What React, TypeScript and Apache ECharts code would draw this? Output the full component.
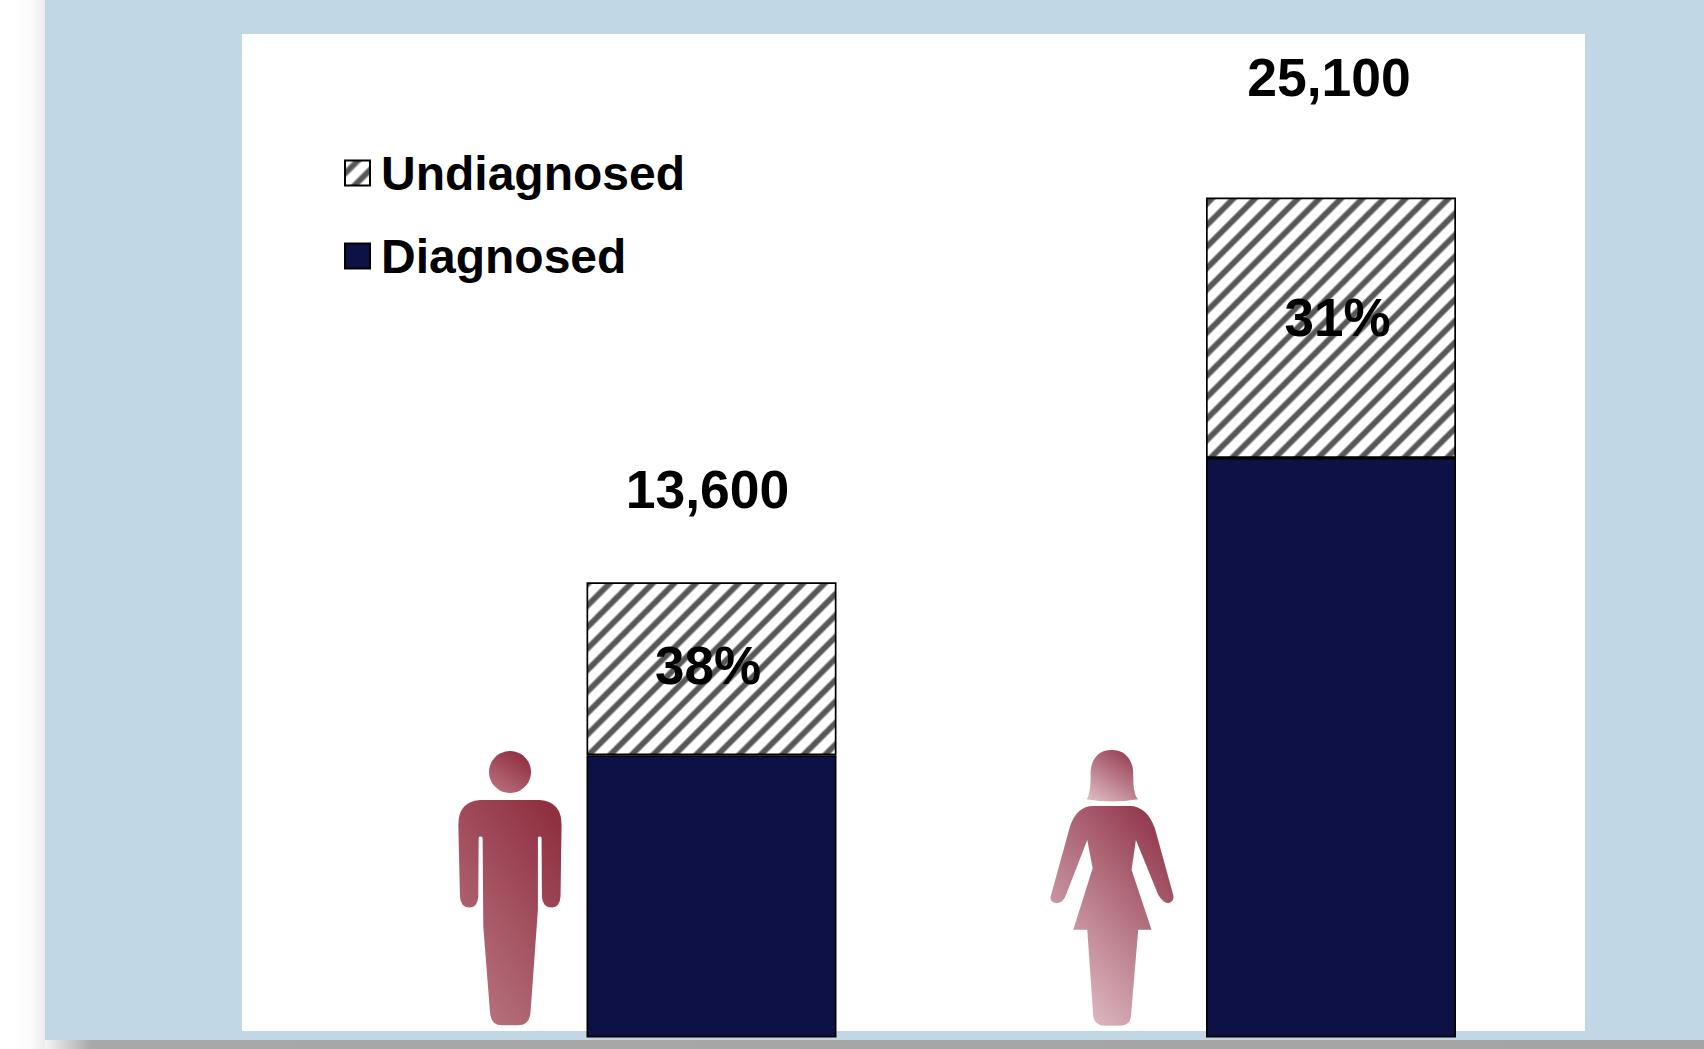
import React, { useEffect, useRef } from "react";
import * as echarts from "echarts";

const categories = ["Men", "Women"];
const totals = [13600, 25100];
const undiagnosedShare = [38, 31];
const undiagnosed = totals.map((t, i) => (t * undiagnosedShare[i]) / 100);
const diagnosed = totals.map((t, i) => t - undiagnosed[i]);
const legendNames = ["Undiagnosed", "Diagnosed"];

const FONT = "'Liberation Sans', Arial, sans-serif";
const NAVY = "#0d1145";

const MAN_BODY =
  "M120 210 L300 210 Q365 215 365 285 L362 500 Q360 533 335 533 Q308 533 306 500 L305 325 Q305 320 300 320 L298 320 Q294 320 294 325 L294 540 L272 845 Q270 887 235 887 L185 887 Q152 887 150 845 L130 590 L128 325 Q128 320 122 320 L120 320 Q116 320 116 325 L115 500 Q113 533 88 533 Q62 533 60 500 L55 285 Q55 215 120 210 Z";
const WOMAN_HAIR =
  "M245 60 C290 60 310 95 310 130 C310 170 312 195 325 208 Q245 222 170 208 C180 195 182 170 182 130 C182 95 200 60 245 60 Z";
const WOMAN_BODY =
  "M190 228 L300 228 Q350 228 375 295 L430 495 Q435 515 415 520 Q400 520 385 495 L318 330 L305 420 L365 600 L325 600 L303 860 Q300 888 270 888 L225 888 Q195 888 190 860 L172 600 L130 600 L188 415 L172 330 L110 490 Q100 520 80 520 Q60 518 62 500 L120 290 Q140 228 190 228 Z";

echarts.graphic.registerShape("manBody", echarts.graphic.extendPath(MAN_BODY, {}));
echarts.graphic.registerShape("womanHair", echarts.graphic.extendPath(WOMAN_HAIR, {}));
echarts.graphic.registerShape("womanBody", echarts.graphic.extendPath(WOMAN_BODY, {}));

// Soft-edged diagonal stripes: the tile holds four stripes so the period can be fractional.
function makeHatchTile(phase: number): HTMLCanvasElement {
  const size = 86;
  const period = size / 4;
  const canvas = document.createElement("canvas");
  canvas.width = size;
  canvas.height = size;
  const ctx = canvas.getContext("2d")!;
  const img = ctx.createImageData(size, size);
  for (let y = 0; y < size; y++) {
    for (let x = 0; x < size; x++) {
      const c = Math.cos((2 * Math.PI * (x + y - phase)) / period);
      const k = Math.min(1, Math.max(0, (c + 0.05) / 0.8));
      const v = Math.round(255 - k * (255 - 88));
      const p = (y * size + x) * 4;
      img.data[p] = v;
      img.data[p + 1] = v;
      img.data[p + 2] = v;
      img.data[p + 3] = 255;
    }
  }
  ctx.putImageData(img, 0, 0);
  return canvas;
}

const slanted = (from: string, to: string) =>
  new echarts.graphic.LinearGradient(0.85, 0, 0.2, 1, [
    { offset: 0, color: from },
    { offset: 1, color: to },
  ]);

export default function App() {
  const ref = useRef<HTMLDivElement>(null);

  useEffect(() => {
    const chart = echarts.init(ref.current!, undefined, { renderer: "svg" });
    const hatches = [9.5, 12].map((phase) => ({
      image: makeHatchTile(phase),
      repeat: "repeat",
    }));
    const figure = { y: 730, scaleX: 1 / 3, scaleY: 1 / 3 };
    const outline = { borderColor: "#000", borderWidth: 1.7 };

    chart.setOption({
      animation: false,
      grid: { left: 401.75, right: 63.25, top: 197.5, bottom: 11.5 },
      xAxis: { type: "category", data: categories, show: false },
      yAxis: { type: "value", min: 0, max: 25100, show: false },
      legend: {
        data: legendNames.map((name) => ({ name, icon: "rect" })),
        orient: "vertical",
        left: 344,
        top: 149,
        padding: 0,
        itemWidth: 25,
        itemHeight: 25,
        itemGap: 35,
        selectedMode: false,
        textStyle: {
          fontFamily: FONT,
          fontSize: 48,
          fontWeight: "bold",
          color: "#000",
          padding: [0, 0, 0, 6],
        },
      },
      graphic: [
        // Slide backdrop with its drop shadow
        {
          type: "rect",
          z: -5,
          shape: { x: 12, y: 0, width: 33, height: 1049 },
          style: {
            fill: new echarts.graphic.LinearGradient(0, 0, 1, 0, [
              { offset: 0, color: "#ffffff" },
              { offset: 0.6, color: "#fafafa" },
              { offset: 1, color: "#ececec" },
            ]),
          },
        },
        {
          type: "rect",
          z: -5,
          shape: { x: 45, y: 1040, width: 1659, height: 9 },
          style: {
            fill: new echarts.graphic.LinearGradient(0, 0, 1, 0, [
              { offset: 0, color: "#f4f4f4" },
              { offset: 0.028, color: "#a8a8a8" },
              { offset: 1, color: "#a4a4a4" },
            ]),
          },
        },
        {
          type: "rect",
          z: -4,
          shape: { x: 45, y: 0, width: 1659, height: 1040 },
          style: { fill: "#c1d7e5" },
        },
        {
          type: "rect",
          z: -3,
          shape: { x: 242, y: 34, width: 1343, height: 997 },
          style: { fill: "#ffffff" },
        },
        // Man
        {
          type: "circle",
          z: 1,
          shape: { cx: 510, cy: 772, r: 21 },
          style: { fill: slanted("#8c2a3b", "#b9707d") },
        },
        {
          type: "manBody",
          z: 1,
          ...figure,
          x: 440,
          style: { fill: slanted("#8f2f40", "#b87480") },
        },
        // Woman
        {
          type: "womanHair",
          z: 1,
          ...figure,
          x: 1030,
          style: { fill: slanted("#93394c", "#dcb6bf") },
        },
        {
          type: "womanBody",
          z: 1,
          ...figure,
          x: 1030,
          style: { fill: slanted("#8f3247", "#e2c1c9") },
        },
      ],
      series: [
        {
          name: "Diagnosed",
          type: "bar",
          stack: "cases",
          barWidth: 250,
          data: diagnosed,
          itemStyle: { color: NAVY, ...outline },
        },
        {
          name: "Undiagnosed",
          type: "bar",
          stack: "cases",
          barWidth: 250,
          itemStyle: { color: hatches[1], ...outline },
          label: {
            show: true,
            position: "inside",
            fontFamily: FONT,
            fontSize: 53,
            fontWeight: "bold",
            color: "#000",
          },
          data: undiagnosed.map((value, i) => ({
            value,
            itemStyle: { color: hatches[i], ...outline },
            label: {
              formatter: `${undiagnosedShare[i]}%`,
              offset: [[-3.5, -3], [6.5, -10]][i],
            },
          })),
        },
        {
          name: "Total",
          type: "scatter",
          symbolSize: 0,
          itemStyle: { opacity: 0 },
          label: {
            show: true,
            position: "top",
            fontFamily: FONT,
            fontSize: 53.5,
            fontWeight: "bold",
            color: "#000",
            opacity: 1,
          },
          data: totals.map((value, i) => ({
            value,
            label: {
              formatter: value.toLocaleString("en-US"),
              offset: [[-4, -61], [-2, -88]][i],
            },
          })),
        },
      ],
    });
    return () => chart.dispose();
  }, []);

  return (
    <div
      ref={ref}
      style={{ position: "fixed", left: 0, top: 0, width: 1704, height: 1049, background: "#fff" }}
    />
  );
}
